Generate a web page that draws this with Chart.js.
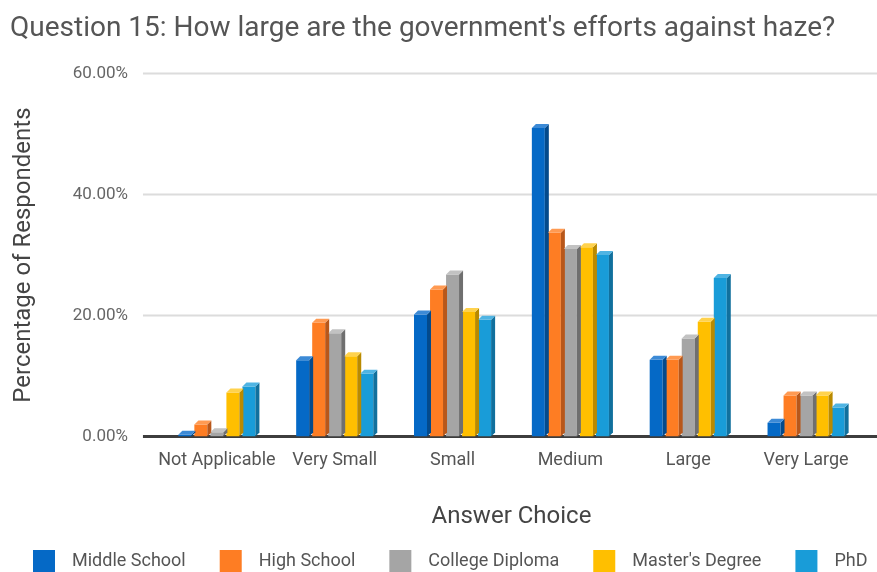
<!DOCTYPE html>
<html>
<head>
<meta charset="utf-8">
<script src="https://cdn.jsdelivr.net/npm/chart.js@4"></script>
<style>
  body { margin: 0; background: #fff; }
  #wrap { width: 877px; height: 572px; }
</style>
</head>
<body>
<div id="wrap"><canvas id="hazeChart" width="877" height="572"></canvas></div>
<script>
// Answer choices on the x axis
const categories = ['Not Applicable', 'Very Small', 'Small', 'Medium', 'Large', 'Very Large'];

// Percentage of respondents per education level
const middleSchool   = [0.3, 12.6, 20.2, 51.0, 12.7, 2.3];
const highSchool     = [2.0, 18.8, 24.3, 33.7, 12.7, 6.8];
const collegeDiploma = [0.7, 17.1, 26.8, 31.0, 16.2, 6.8];
const mastersDegree  = [7.3, 13.3, 20.6, 31.3, 19.0, 6.8];
const phd            = [8.3, 10.4, 19.3, 30.0, 26.2, 4.8];

const seriesNames = ['Middle School', 'High School', 'College Diploma', "Master's Degree", 'PhD'];
const yTicks = [0, 20, 40, 60];

// front / side / top colours for each series
const fronts = ['#0569c6', '#fe7d23', '#a5a5a5', '#ffbf00', '#199cd8'];
const sides  = ['#034a8c', '#b8571a', '#6f6f6f', '#b98a00', '#11709d'];
const tops   = ['#3c8ad6', '#ff9a52', '#c2c2c2', '#ffd24d', '#4fb4e3'];

// Grid lines reach a bit past the category area, like the original
const gridLines = {
    id: 'gridLines',
    beforeDatasetsDraw(chart) {
        const ctx = chart.ctx;
        const yScale = chart.scales.y;
        const left = chart.chartArea.left - 15;
        const right = chart.width;
        ctx.save();
        yTicks.forEach(v => {
            const y = yScale.getPixelForValue(v);
            ctx.beginPath();
            ctx.moveTo(left, y);
            ctx.lineTo(right, y);
            if (v === 0) {
                ctx.strokeStyle = '#3d3d3d';
                ctx.lineWidth = 3;
            } else {
                ctx.strokeStyle = '#dcdcdc';
                ctx.lineWidth = 2;
            }
            ctx.stroke();
        });
        ctx.restore();
    }
};

// Fake 3D: side and top faces on each bar
const bar3d = {
    id: 'bar3d',
    afterDatasetsDraw(chart) {
        const ctx = chart.ctx;
        const d = 4;
        ctx.save();
        chart.data.datasets.forEach((ds, i) => {
            const meta = chart.getDatasetMeta(i);
            meta.data.forEach(bar => {
                const { x, y, base, width } = bar.getProps(['x', 'y', 'base', 'width'], true);
                const l = x - width / 2;
                const r = x + width / 2;
                ctx.fillStyle = sides[i];
                ctx.beginPath();
                ctx.moveTo(r, y);
                ctx.lineTo(r + d, y - d);
                ctx.lineTo(r + d, base - d);
                ctx.lineTo(r, base);
                ctx.closePath();
                ctx.fill();
                ctx.fillStyle = tops[i];
                ctx.beginPath();
                ctx.moveTo(l, y);
                ctx.lineTo(l + d, y - d);
                ctx.lineTo(r + d, y - d);
                ctx.lineTo(r, y);
                ctx.closePath();
                ctx.fill();
            });
        });
        ctx.restore();
    }
};

// Legend along the bottom edge (boxes partly cut off, as in the original)
const bottomLegend = {
    id: 'bottomLegend',
    afterDraw(chart) {
        const ctx = chart.ctx;
        ctx.save();
        ctx.font = '18px Roboto';
        ctx.textBaseline = 'middle';
        let x = 33;
        chart.data.datasets.forEach((ds, i) => {
            ctx.fillStyle = ds.backgroundColor;
            ctx.fillRect(x, 550, 22, 24);
            x += 22 + 17;
            ctx.fillStyle = '#555';
            ctx.fillText(ds.label, x, 561);
            x += ctx.measureText(ds.label).width + 34;
        });
        ctx.restore();
    }
};

const seriesData = [middleSchool, highSchool, collegeDiploma, mastersDegree, phd];

const ctx = document.getElementById('hazeChart').getContext('2d');
new Chart(ctx, {
    type: 'bar',
    data: {
        labels: categories,
        datasets: seriesNames.map((name, i) => ({
            label: name,
            data: seriesData[i],
            backgroundColor: fronts[i],
            borderWidth: 0,
            categoryPercentage: 0.68,
            barPercentage: 0.81
        }))
    },
    options: {
        responsive: false,
        animation: false,
        layout: {
            padding: { left: 10, right: 12, top: 0, bottom: 41 }
        },
        plugins: {
            title: {
                display: true,
                text: "Question 15: How large are the government's efforts against haze?",
                align: 'start',
                color: '#555',
                font: { family: 'Roboto', size: 28, weight: 'normal' },
                padding: { top: 12, bottom: 28 }
            },
            legend: { display: false },
            tooltip: { enabled: false }
        },
        scales: {
            x: {
                grid: { display: false, drawTicks: false },
                border: { display: false },
                ticks: {
                    color: '#555',
                    font: { family: 'Roboto', size: 18 },
                    padding: 13,
                    minRotation: 0,
                    maxRotation: 0,
                    autoSkip: false
                },
                title: {
                    display: true,
                    text: 'Answer Choice',
                    color: '#444',
                    font: { family: 'Roboto', size: 24 },
                    padding: { top: 18, bottom: 0 }
                }
            },
            y: {
                min: 0,
                max: 60,
                grid: { display: false, drawTicks: false },
                border: { display: false },
                afterBuildTicks: axis => {
                    axis.ticks = yTicks.map(v => ({ value: v }));
                },
                ticks: {
                    color: '#666',
                    font: { family: 'Roboto', size: 17 },
                    padding: 30,
                    callback: v => v.toFixed(2) + '%'
                },
                title: {
                    display: true,
                    text: 'Percentage of Respondents',
                    color: '#444',
                    font: { family: 'Roboto', size: 24 },
                    padding: { top: 0, bottom: 4 }
                }
            }
        }
    },
    plugins: [gridLines, bar3d, bottomLegend]
});
</script>
</body>
</html>
